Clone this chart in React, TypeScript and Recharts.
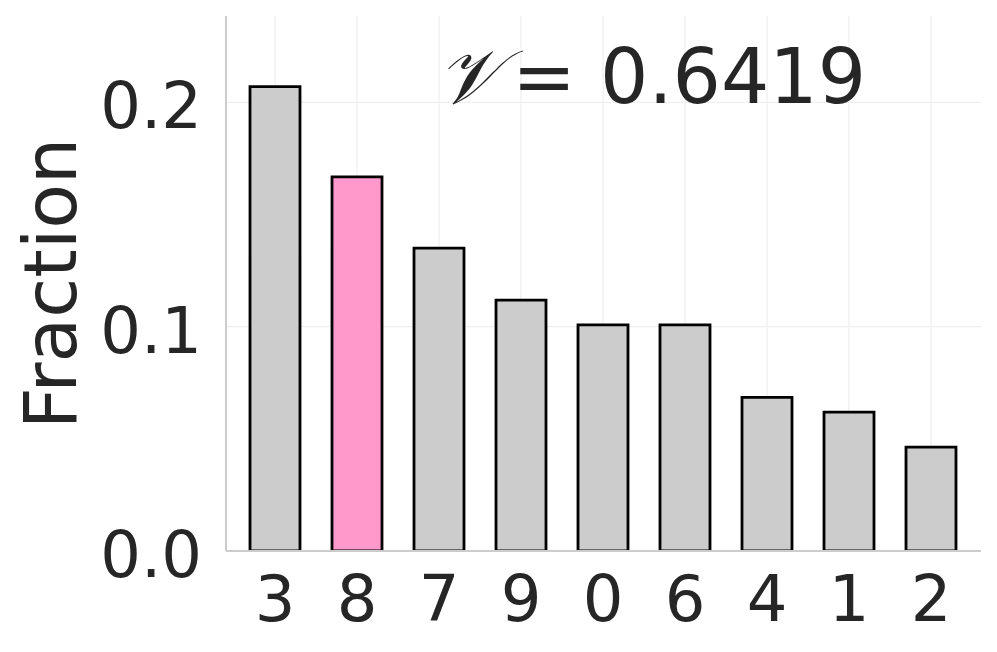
import React from "react";
import { BarChart, Bar, XAxis, YAxis, CartesianGrid, Cell } from "recharts";

const categories = ["3", "8", "7", "9", "0", "6", "4", "1", "2"];
const fractions = [0.207, 0.1668, 0.135, 0.1118, 0.1008, 0.1008, 0.0685, 0.0619, 0.0463];
const highlighted = "8";
const yTicks = [0, 0.1, 0.2];
const titleSymbol = "𝒱";
const titleValue = "= 0.6419";

const data = categories.map((c, i) => ({ cat: c, value: fractions[i] }));

const FONT = "DejaVu Sans";
const TEXT = "#262626";

const XTick = (props: any) => {
  const { x, payload } = props;
  return (
    <text x={x} y={621} textAnchor="middle" fontFamily={FONT} fontSize={64} fill={TEXT}>
      {payload.value}
    </text>
  );
};

const YTick = (props: any) => {
  const { y, payload } = props;
  return (
    <text x={202} y={y + 26} textAnchor="end" fontFamily={FONT} fontSize={64} fill={TEXT}>
      {Number(payload.value).toFixed(1)}
    </text>
  );
};

export default function App() {
  return (
    <div style={{ position: "absolute", left: 0, top: 0, width: 997, height: 652, background: "#fff" }}>
      <BarChart
        width={997}
        height={652}
        data={data}
        margin={{ top: 16, right: 16, bottom: 0, left: 0 }}
      >
        <CartesianGrid
          stroke="#efefef"
          strokeWidth={1.2}
          vertical={true}
          horizontal={true}
          horizontalValues={[0.1, 0.2]}
          verticalValues={categories}
        />
        <XAxis
          dataKey="cat"
          height={101}
          padding={{ left: 8, right: 9 }}
          axisLine={{ stroke: "#cccccc", strokeWidth: 2 }}
          tickLine={false}
          tick={<XTick />}
          interval={0}
        />
        <YAxis
          width={226}
          domain={[0, 0.2385]}
          ticks={yTicks}
          axisLine={{ stroke: "#cccccc", strokeWidth: 2 }}
          tickLine={false}
          tick={<YTick />}
          allowDataOverflow={true}
        />
        <Bar dataKey="value" barSize={50} stroke="#000000" strokeWidth={2.8} isAnimationActive={false}>
          {data.map((d, i) => (
            <Cell key={i} fill={d.cat === highlighted ? "#ff99cc" : "#cccccc"} />
          ))}
        </Bar>
      </BarChart>
      <svg width={997} height={652} style={{ position: "absolute", left: 0, top: 0, pointerEvents: "none" }}>
        <text
          x={76}
          y={283.5}
          transform="rotate(-90 76 283.5)"
          textAnchor="middle"
          fontFamily={FONT}
          fontSize={73}
          fill={TEXT}
        >
          Fraction
        </text>
        <text x={500} y={102.5} textAnchor="end" fontFamily="DejaVu Serif, serif" fontStyle="italic" fontSize={76} fill={TEXT}>
          {titleSymbol}
        </text>
        <text x={866} y={102.5} textAnchor="end" fontFamily={FONT} fontSize={76} fill={TEXT}>
          {titleValue}
        </text>
      </svg>
    </div>
  );
}
